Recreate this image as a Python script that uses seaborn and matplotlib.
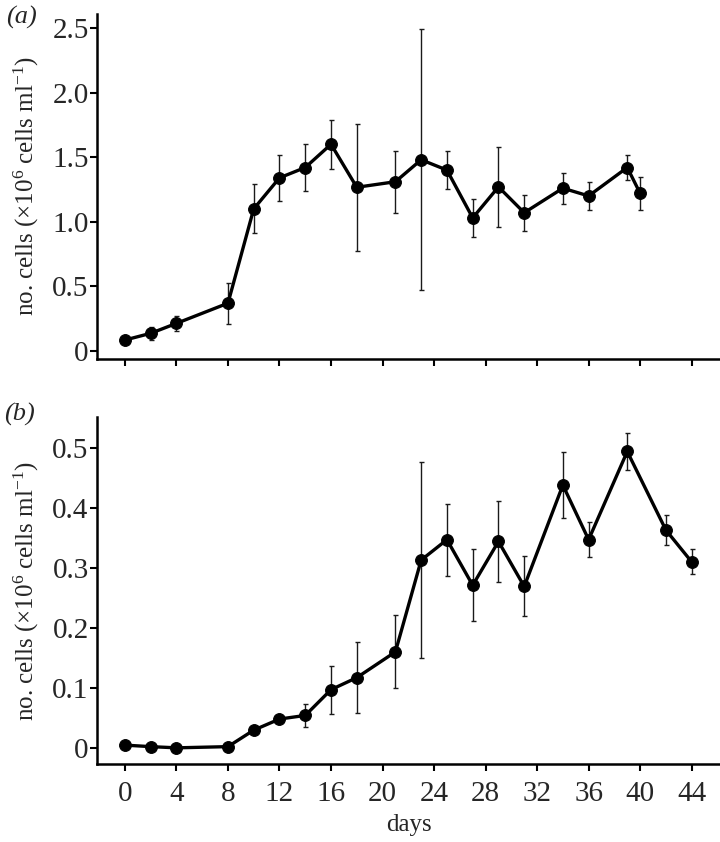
import matplotlib
matplotlib.use("Agg")
import matplotlib.pyplot as plt
import pandas as pd
import seaborn as sns

# panel (a)
days_a = [0, 2, 4, 8, 10, 12, 14, 16, 18, 21, 23, 25, 27, 29, 31, 34, 36, 39, 40]
cells_a = [0.085, 0.137, 0.214, 0.37, 1.10, 1.34, 1.42, 1.60, 1.267, 1.31, 1.48,
           1.40, 1.03, 1.27, 1.07, 1.26, 1.20, 1.42, 1.22]
err_a = [0.02, 0.05, 0.06, 0.16, 0.19, 0.18, 0.18, 0.19, 0.49, 0.24, 1.01,
         0.15, 0.15, 0.31, 0.14, 0.12, 0.11, 0.10, 0.13]

# panel (b)
days_b = [0, 2, 4, 8, 10, 12, 14, 16, 18, 21, 23, 25, 27, 29, 31, 34, 36, 39, 42, 44]
cells_b = [0.0055, 0.003, 0.001, 0.003, 0.0305, 0.049, 0.055, 0.098, 0.118, 0.161,
           0.314, 0.348, 0.272, 0.345, 0.27, 0.439, 0.348, 0.495, 0.364, 0.311]
err_b = [0.0, 0.0, 0.0, 0.0, 0.0, 0.0, 0.019, 0.04, 0.059, 0.061,
         0.164, 0.06, 0.06, 0.067, 0.05, 0.055, 0.029, 0.031, 0.025, 0.021]

xticks = list(range(0, 45, 4))
yticks_a = [0, 0.5, 1.0, 1.5, 2.0, 2.5]
ytick_labels_a = ["0", "0.5", "1.0", "1.5", "2.0", "2.5"]
yticks_b = [0, 0.1, 0.2, 0.3, 0.4, 0.5]
ytick_labels_b = ["0", "0.1", "0.2", "0.3", "0.4", "0.5"]
ylabel = "no. cells (×10$^{6}$ cells ml$^{-1}$)"

sns.set_style("ticks")
plt.rcParams["font.family"] = ["Liberation Serif", "DejaVu Serif"]
plt.rcParams["mathtext.fontset"] = "custom"
plt.rcParams["mathtext.rm"] = "Liberation Serif"
plt.rcParams["mathtext.it"] = "Liberation Serif:italic"

fig = plt.figure(figsize=(7.2, 8.42), dpi=100)
ax_a = fig.add_axes([0.1347, 0.5736, 0.8653, 0.4098])
ax_b = fig.add_axes([0.1347, 0.0926, 0.8653, 0.4118])


def draw_panel(ax, days, cells, err, yticks, ylabels, ylim, show_x):
    df = pd.DataFrame({"days": days, "cells": cells})
    ax.errorbar(days, cells, yerr=err, fmt="none", ecolor="#1a1a1a",
                elinewidth=1.0, capsize=1.8, capthick=1.0, zorder=2)
    sns.lineplot(data=df, x="days", y="cells", ax=ax, color="black",
                 linewidth=2.4, marker="o", markersize=8.5,
                 markeredgecolor="black", zorder=3)
    ax.set_xlim(-2.17, 46.2)
    ax.set_ylim(*ylim)
    ax.set_xticks(xticks)
    ax.set_yticks(yticks)
    ax.set_yticklabels(ylabels)
    if not show_x:
        ax.set_xticklabels([])
        ax.set_xlabel("")
    else:
        ax.set_xlabel("days", fontsize=18, labelpad=5)
    ax.set_ylabel(ylabel, fontsize=18, labelpad=8)
    sns.despine(ax=ax)
    for s in ["left", "bottom"]:
        ax.spines[s].set_linewidth(1.8)
        ax.spines[s].set_color("black")
    ax.tick_params(axis="both", labelsize=21, width=1.5, length=5,
                   color="black", direction="out")
    ax.tick_params(axis="y", pad=1)
    ax.tick_params(axis="x", pad=7)


draw_panel(ax_a, days_a, cells_a, err_a, yticks_a, ytick_labels_a,
           (-0.062, 2.608), False)
draw_panel(ax_b, days_b, cells_b, err_b, yticks_b, ytick_labels_b,
           (-0.026, 0.552), True)

fig.text(0.008, 0.993, "(a)", fontsize=19, style="italic", va="top", ha="left")
fig.text(0.006, 0.522, "(b)", fontsize=19, style="italic", va="top", ha="left")

fig.savefig("out.png", dpi=100)
